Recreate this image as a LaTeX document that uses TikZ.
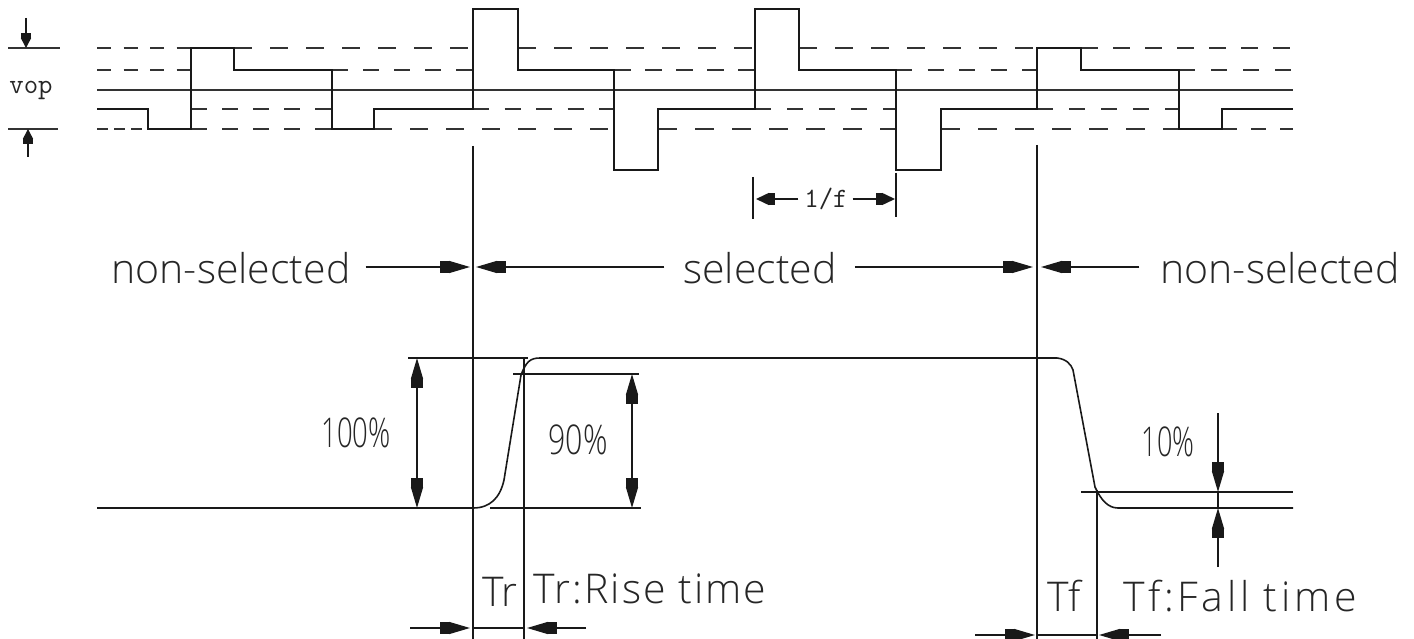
\documentclass[tikz,border=0pt]{standalone}
\usepackage{fontspec}
\usetikzlibrary{arrows.meta}
\newfontfamily\cadfont{Open Sans}[UprightFont=* Light]
\tikzset{
	/LCD/wave/.style={line width=1.6pt, black!90},
	/LCD/level/.style={line width=1.7pt, black!80},
	/LCD/dim/.style={line width=1.5pt, black!90},
	/LCD/large/.style={/LCD/dim, {Triangle[length=21pt,width=12pt,sep=0pt]Rectangle[length=9pt,width=12pt]}-{Rectangle[length=9pt,width=12pt,sep=0pt]Triangle[length=21pt,width=12pt]}},
	/LCD/tip/.style={/LCD/dim, -{Rectangle[length=9pt,width=12pt,sep=0pt]Triangle[length=21pt,width=12pt]}},
	/LCD/midtip/.style={/LCD/dim, -{Rectangle[length=6pt,width=12pt,sep=0pt]Triangle[length=13pt,width=12pt]}},
	/LCD/smalltip/.style={/LCD/dim, -{Rectangle[length=5pt,width=10pt,sep=0pt]Triangle[length=10pt,width=10pt]}},
	/LCD/label/.style={font=\cadfont\fontsize{41}{41}\selectfont, inner sep=0, outer sep=0, black!85},
	/LCD/mono/.style={font=\ttfamily\fontsize{28}{28}\selectfont, inner sep=0, outer sep=0, black!85}
}

\begin{document}
\begin{tikzpicture}[x=1pt, y=-1pt]
	\useasboundingbox (0, 0) rectangle (1414, 639);
	% dashed voltage levels: y / from / to / on / off
	\foreach \lev/\xa/\xb/\don/\doff in {%
		48/97/191/14/12.5, 48/234/473/18/18, 48/518/755/18/18, 48/799/1037/18/18, 48/1081/1293/16.5/15.5,%
		70/97/191/14/12.5, 70/332/473/15.5/15.5, 70/614/755/17/14, 70/896/1037/16/15.5, 70/1179/1293/16/16,%
		109/191/332/16/15, 109/473/614/16/15.5, 109/755/896/16/16, 109/1037/1179/16/16,%
		129/97/148/11/6, 129/191/332/16/15, 129/374/614/18/18, 129/658/896/18.5/18.5, 129/941/1179/18.5/18.5, 129/1222/1293/15/14%
	}{
		\draw[/LCD/level, dash pattern=on \don pt off \doff pt] (\xa, \lev) -- (\xb, \lev);
	}
	\draw[/LCD/level] (97, 90) -- (1293, 90);
	% drive waveform
	\draw[/LCD/wave] (97, 109) -| (148, 129) -| (191, 48) -| (234, 70) -| (332, 129) -| (374, 109)
		-| (473, 9) -| (518, 70) -| (614, 170) -| (658, 109)
		-| (755, 9) -| (799, 70) -| (896, 170) -| (941, 109)
		-| (1037, 48) -| (1081, 70) -| (1179, 129) -| (1222, 109) -- (1293, 109);
	% vop
	\draw[/LCD/level] (8, 48) -- (60, 48);
	\draw[/LCD/level] (8, 129) -- (58, 129);
	\coordinate (vopTop) at (26, 18);
	\coordinate (vopBot) at (28, 157);
	\draw[/LCD/smalltip] (vopTop) -- (26, 48);
	\draw[/LCD/smalltip] (vopBot) -- (28, 129);
	\node[/LCD/mono] (vop) at (31, 90.5) {vop};
	% 1/f
	\draw[/LCD/dim] (753, 177) -- (753, 219);
	\draw[/LCD/dim] (896, 173) -- (896, 217);
	\node[/LCD/mono] (freq) at (826, 199) {1/f};
	\draw[/LCD/midtip] (freq.west) ++(-6, 0) -- (756, 199);
	\draw[/LCD/midtip] (freq.east) ++(5, 0) -- (895, 199);
	% extension lines
	\draw[/LCD/dim] (473, 146) -- (473, 639);
	\draw[/LCD/dim] (1037, 145) -- (1037, 639);
	\draw[/LCD/dim] (524, 358) -- (524, 639);
	\draw[/LCD/dim] (1097, 490) -- (1097, 639);
	% row of labels
	\coordinate (row) at (0, 267);
	\path (231, 268) node[/LCD/label] (nsA) {non-selected};
	\path (760, 268) node[/LCD/label] (sel) {selected};
	\path (1280, 268) node[/LCD/label] (nsB) {non-selected};
	\draw[/LCD/tip] (nsA.east |- row) ++(15, 0) -- (470, 267);
	\draw[/LCD/tip] (sel.west |- row) ++(-19, 0) -- (476, 267);
	\draw[/LCD/tip] (sel.east |- row) ++(18, 0) -- (1033, 267);
	\draw[/LCD/tip] (nsB.west |- row) ++(-21, 0) -- (1041, 267);
	% response curve
	\draw[/LCD/wave] (97, 508) -- (473, 508) .. controls (490, 508) and (500, 498) .. (504, 480)
		-- (521, 375) .. controls (526, 362) and (530, 358) .. (540, 358)
		-- (1057, 358) .. controls (1066, 359) and (1071, 364) .. (1073, 370)
		-- (1095, 487) .. controls (1101, 500) and (1108, 508) .. (1118, 508) -- (1293, 508);
	\draw[/LCD/dim] (408, 358) -- (528, 358);
	\draw[/LCD/dim] (513, 374) -- (639, 374);
	\draw[/LCD/dim] (490, 508) -- (641, 508);
	\draw[/LCD/dim] (1081, 492) -- (1293, 492);
	\draw[/LCD/large] (417, 358) -- (417, 508);
	\draw[/LCD/large] (632, 374) -- (632, 508);
	\draw[/LCD/tip] (1218, 413) -- (1218, 492);
	\draw[/LCD/tip] (1218, 567) -- (1218, 508);
	\draw[/LCD/dim] (1218, 492) -- (1218, 508);
	\node[/LCD/label] (full) at (356, 433) {\scalebox{0.67}[1]{100\%}};
	\node[/LCD/label] (ninety) at (578, 440) {\scalebox{0.74}[1]{90\%}};
	\node[/LCD/label] (ten) at (1168, 442) {\scalebox{0.66}[1]{10\%}};
	% rise and fall
	\node[/LCD/label, anchor=base west] (tr) at (482, 606) {Tr};
	\node[/LCD/label, anchor=base west] (rise) at (533, 603) {\addfontfeature{LetterSpace=5}Tr:Rise time};
	\node[/LCD/label, anchor=base west] (tf) at (1047, 611) {Tf};
	\node[/LCD/label, anchor=base west] (fall) at (1123, 611) {\addfontfeature{LetterSpace=9}Tf:Fall time};
	\draw[/LCD/tip] (410, 628) -- (470, 628);
	\draw[/LCD/tip] (586, 628) -- (527, 628);
	\draw[/LCD/dim] (473, 628) -- (524, 628);
	\draw[/LCD/tip] (975, 635) -- (1035, 635);
	\draw[/LCD/tip] (1161, 635) -- (1099, 635);
	\draw[/LCD/dim] (1037, 635) -- (1097, 635);
\end{tikzpicture}
\end{document}
